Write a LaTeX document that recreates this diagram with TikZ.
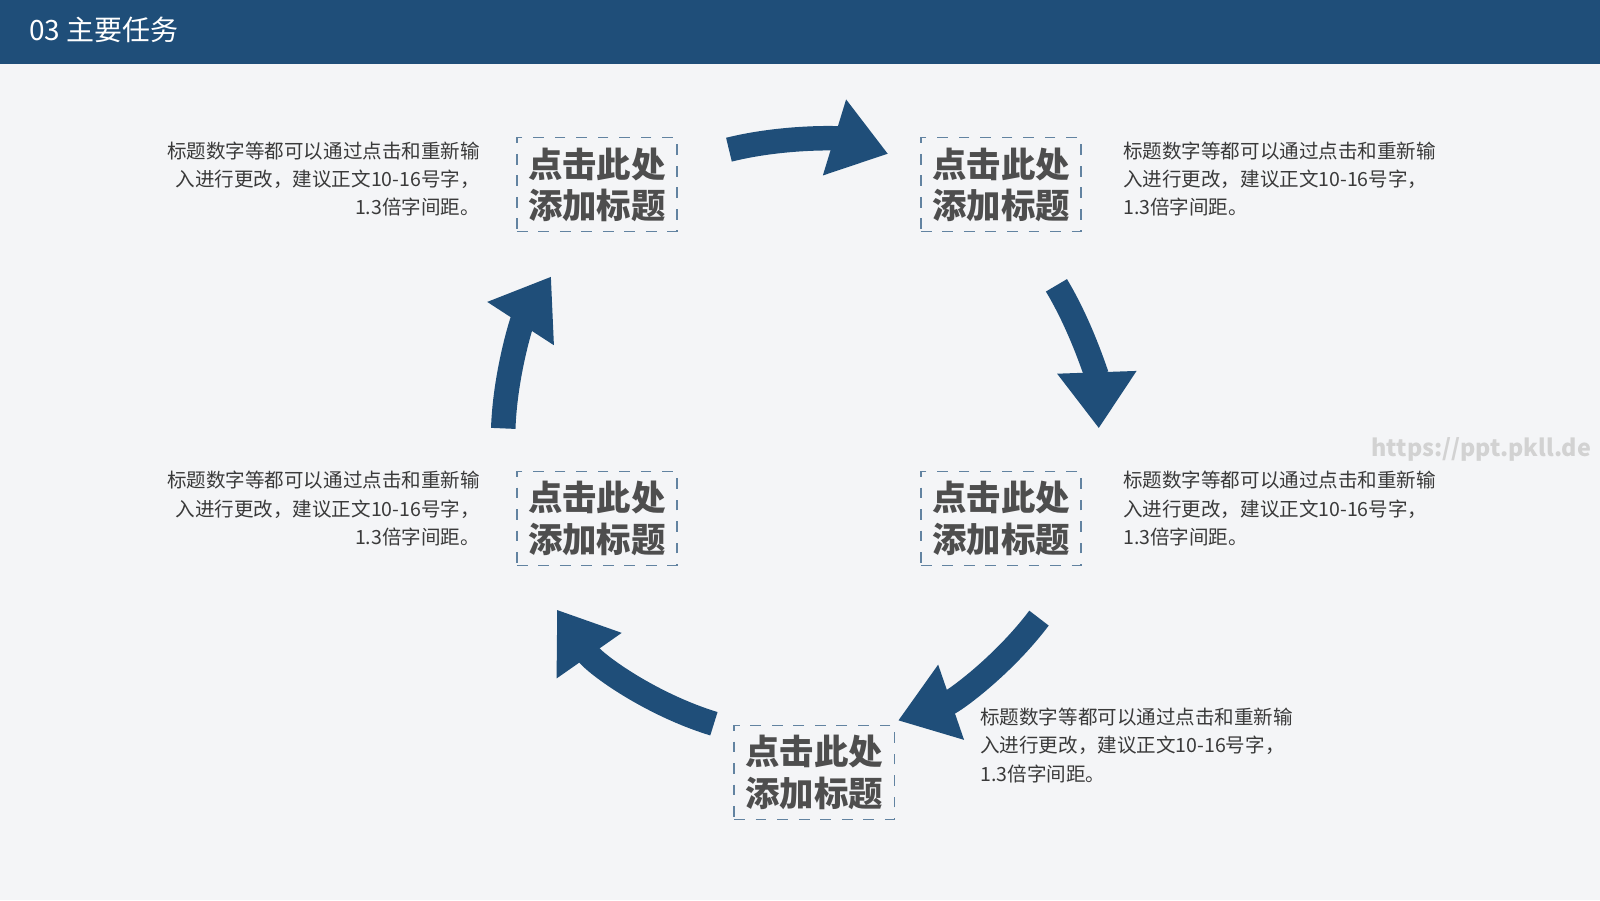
\documentclass[tikz,border=0pt]{standalone}
\usepackage{fontspec}
\setmainfont{Noto Sans CJK SC}
\usetikzlibrary{arrows.meta}
\definecolor{navy}{HTML}{1F4E79}
\definecolor{bg}{HTML}{F4F5F7}
\definecolor{txt}{HTML}{3A3A3A}
\tikzset{
 tbox/.style={draw=navy!70,dashed,line width=0.4pt,minimum width=1.57cm,minimum height=0.92cm,font=\fontsize{9.6}{11.5}\selectfont\bfseries,text=txt!90,align=center,inner sep=0pt},
 para/.style={font=\fontsize{5.45}{7.9}\selectfont,text=txt,inner sep=0pt},
 carrow/.style={navy,line width=0.24cm,-{Triangle[width=0.74cm,length=0.55cm]}},
}
\begin{document}
\begin{tikzpicture}
\useasboundingbox (0,0) rectangle (15.68,-8.82);
\fill[bg] (0,0) rectangle (15.68,-8.82);
\fill[navy] (0,0) rectangle (15.68,-0.63);
\node[anchor=west,text=white,font=\fontsize{7.8}{9}\selectfont,inner sep=0pt] (hdr) at (0.28,-0.29) {03 主要任务};
\node[tbox] (b1) at (5.85,-1.81) {点击此处\\添加标题};
\node[tbox] (b2) at (9.81,-1.81) {点击此处\\添加标题};
\node[tbox] (b3) at (9.81,-5.08) {点击此处\\添加标题};
\node[tbox] (b4) at (7.98,-7.57) {点击此处\\添加标题};
\node[tbox] (b5) at (5.85,-5.08) {点击此处\\添加标题};
\node[para,align=right,anchor=north east] (p1) at (4.71,-1.38) {标题数字等都可以通过点击和重新输\\入进行更改，建议正文10-16号字，\\1.3倍字间距。};
\node[para,align=left,anchor=north west] (p2) at (11.0,-1.38) {标题数字等都可以通过点击和重新输\\入进行更改，建议正文10-16号字，\\1.3倍字间距。};
\node[para,align=left,anchor=north west] (p3) at (11.0,-4.61) {标题数字等都可以通过点击和重新输\\入进行更改，建议正文10-16号字，\\1.3倍字间距。};
\node[para,align=right,anchor=north east] (p5) at (4.71,-4.61) {标题数字等都可以通过点击和重新输\\入进行更改，建议正文10-16号字，\\1.3倍字间距。};
\node[para,align=left,anchor=north west] (p4) at (9.6,-6.93) {标题数字等都可以通过点击和重新输\\入进行更改，建议正文10-16号字，\\1.3倍字间距。};
\node[font=\fontsize{6.5}{8}\selectfont\bfseries,text=gray!35,anchor=east,inner sep=0pt] (wm) at (15.6,-4.4) {https://ppt.pkll.de};
\coordinate (c) at (7.85,-4.30);
\def\R{2.92}
\draw[carrow] (c) ++(104:\R) arc[start angle=104,end angle=73,radius=\R];
\draw[carrow] (c) ++(31:\R) arc[start angle=31,end angle=2,radius=\R];
\draw[carrow] (c) ++(-37:\R) arc[start angle=-37,end angle=-71,radius=\R];
\draw[carrow] (c) ++(-107:\R) arc[start angle=-107,end angle=-145,radius=\R];
\draw[carrow] (c) ++(178:\R) arc[start angle=178,end angle=147,radius=\R];
\end{tikzpicture}
\end{document}
